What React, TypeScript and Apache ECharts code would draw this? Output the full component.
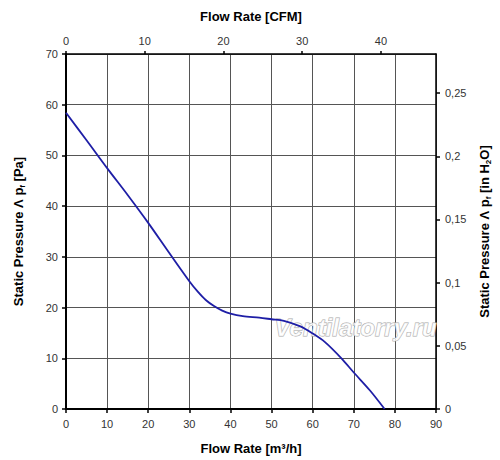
import React, { useEffect, useRef } from "react";
import * as echarts from "echarts";

const flowM3h = [0, 5, 10, 15, 20, 25, 30, 32, 34, 36, 38, 40, 43, 47, 50, 53, 57, 60, 63, 67, 70, 74, 77.5];
const pressurePa = [58.4, 53.0, 47.5, 42.2, 36.7, 30.9, 25.2, 23.2, 21.5, 20.3, 19.4, 18.8, 18.3, 18.0, 17.7, 17.4, 16.3, 14.9, 13.2, 10.0, 7.2, 3.6, 0];

const bottomRange = [0, 90];
const topRange = [0, 47];
const leftRange = [0, 70];
const rightRange = [0, 0.281];

const FONT = "Liberation Sans, Arial, sans-serif";

export default function App() {
  const ref = useRef<HTMLDivElement>(null);
  useEffect(() => {
    if (!ref.current) return;
    const chart = echarts.init(ref.current, undefined, { renderer: "svg" });
    const labelStyle = { color: "#333", fontSize: 11, fontFamily: FONT };
    const nameStyle = { color: "#000", fontSize: 13, fontWeight: "bold" as const, fontFamily: FONT };
    const subRich = {
      s: { fontSize: 8, fontWeight: "bold" as const, fontFamily: FONT, color: "#000", padding: [7, 0, 0, 0] },
    };
    chart.setOption({
      animation: false,
      backgroundColor: "#fff",
      grid: { left: 66, right: 64, top: 54, bottom: 51, containLabel: false },
      xAxis: [
        {
          type: "value",
          position: "bottom",
          min: bottomRange[0],
          max: bottomRange[1],
          interval: 10,
          name: "Flow Rate [m³/h]",
          nameLocation: "middle",
          nameGap: 33,
          nameTextStyle: nameStyle,
          axisLine: { show: true, onZero: false, lineStyle: { color: "#000", width: 2 } },
          axisTick: { show: true, length: 4, lineStyle: { color: "#000", width: 1.5 } },
          axisLabel: { ...labelStyle, margin: 9 },
          splitLine: { show: true, lineStyle: { color: "#555", width: 1 } },
        },
        {
          type: "value",
          position: "top",
          min: topRange[0],
          max: topRange[1],
          interval: 10,
          name: "Flow Rate [CFM]",
          nameLocation: "middle",
          nameGap: 31,
          nameTextStyle: nameStyle,
          axisLine: { show: true, onZero: false, lineStyle: { color: "#000", width: 1.5 } },
          axisTick: { show: true, length: 3, lineStyle: { color: "#000", width: 1.5 } },
          axisLabel: { ...labelStyle, margin: 8, showMaxLabel: false },
          splitLine: { show: false },
        },
      ],
      yAxis: [
        {
          type: "value",
          position: "left",
          min: leftRange[0],
          max: leftRange[1],
          interval: 10,
          name: "Static Pressure Λ p{s|f} [Pa]",
          nameLocation: "middle",
          nameGap: 40,
          nameRotate: 90,
          nameTextStyle: { ...nameStyle, rich: subRich },
          axisLine: { show: true, onZero: false, lineStyle: { color: "#000", width: 2 } },
          axisTick: { show: true, length: 4, lineStyle: { color: "#000", width: 1.5 } },
          axisLabel: { ...labelStyle, margin: 8 },
          splitLine: { show: true, lineStyle: { color: "#555", width: 1 } },
        },
        {
          type: "value",
          position: "right",
          min: rightRange[0],
          max: rightRange[1],
          interval: 0.05,
          name: "Static Pressure Λ p{s|f} [in H{s|2}O]",
          nameLocation: "middle",
          nameGap: 41,
          nameRotate: 90,
          nameTextStyle: { ...nameStyle, rich: subRich },
          axisLine: { show: true, onZero: false, lineStyle: { color: "#000", width: 1.5 } },
          axisTick: { show: true, length: 4, lineStyle: { color: "#000", width: 1.5 } },
          axisLabel: {
            ...labelStyle,
            margin: 9,
            showMaxLabel: false,
            formatter: (v: number) => String(Math.round(v * 100) / 100).replace(".", ","),
          },
          splitLine: { show: false },
        },
      ],
      graphic: [
        {
          type: "text",
          left: 274,
          top: 315,
          z: 1,
          style: {
            text: "Ventilatorry.ru",
            font: "italic bold 24px " + FONT,
            fill: "rgba(255,255,255,0.8)",
            stroke: "#a8a8a8",
            lineWidth: 1,
          },
        },
      ],
      series: [
        {
          type: "line",
          xAxisIndex: 0,
          yAxisIndex: 0,
          data: flowM3h.map((x, i) => [x, pressurePa[i]]),
          showSymbol: false,
          smooth: 0.3,
          z: 5,
          lineStyle: { color: "#1e1ea6", width: 1.8 },
        },
      ],
    });
    return () => chart.dispose();
  }, []);
  return (
    <div
      ref={ref}
      style={{ position: "fixed", left: 0, top: 0, width: 500, height: 460 }}
    />
  );
}
